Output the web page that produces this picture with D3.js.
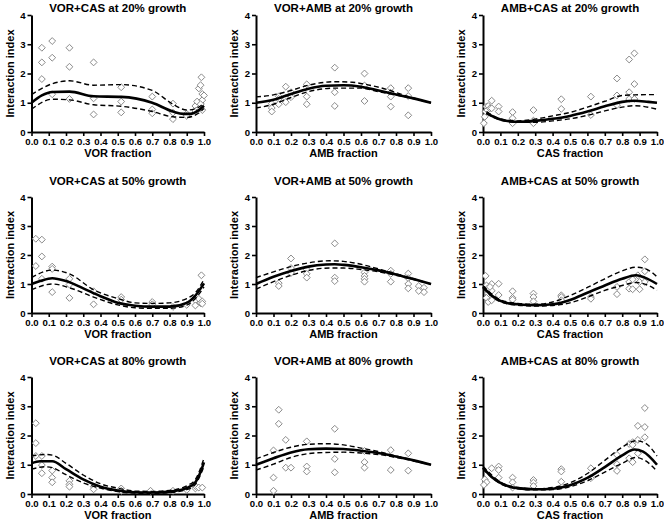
<!DOCTYPE html>
<html><head><meta charset="utf-8">
<script src="https://cdn.jsdelivr.net/npm/d3@7"></script>
<style>body{margin:0;background:#fff}svg{display:block}text{font-family:"Liberation Sans",Arial,sans-serif;font-weight:bold;fill:#000}</style>
</head><body><svg id="c" width="664" height="520"></svg>
<script>
const titles = ["VOR+CAS at 20% growth","VOR+AMB at 20% growth","AMB+CAS at 20% growth",
  "VOR+CAS at 50% growth","VOR+AMB at 50% growth","AMB+CAS at 50% growth",
  "VOR+CAS at 80% growth","VOR+AMB at 80% growth","AMB+CAS at 80% growth"];
const xLabels = ["VOR fraction","AMB fraction","CAS fraction"];
const yLabel = "Interaction index";
const xTicks = [0,0.1,0.2,0.3,0.4,0.5,0.6,0.7,0.8,0.9,1.0];
const yTicks = [0,1,2,3,4];

// ---- VOR+CAS 20%
const vc20Pts = [[0.06,2.88],[0.06,2.38],[0.06,1.81],[0.12,3.11],[0.12,2.54],[0.12,1.29],[0.22,2.88],[0.22,2.23],[0.22,1.13],
 [0.36,2.38],[0.36,1.15],[0.36,0.6],[0.52,1.53],[0.52,1.04],[0.52,0.67],[0.7,1.21],[0.7,0.77],[0.7,0.64],[0.82,0.97],[0.82,0.44],[0.82,0.66],
 [0.9,0.62],[0.9,0.55],[0.95,0.89],[0.95,0.72],[0.96,1.04],[0.97,1.49],[0.98,1.6],[0.985,1.87],[0.99,1.3],[0.99,1.09],[0.99,0.75],[0.97,0.8],[0.98,0.95],[1.0,1.25]];
const vc20Fit = [[0,1.0],[0.06,1.25],[0.12,1.37],[0.22,1.38],[0.36,1.22],[0.52,1.2],[0.7,1.0],[0.82,0.7],[0.88,0.62],[0.92,0.62],[0.97,0.75],[1.0,0.9]];
const vc20Up = [[0,1.28],[0.12,1.65],[0.22,1.75],[0.36,1.6],[0.52,1.62],[0.7,1.42],[0.82,0.95],[0.9,0.75],[0.97,0.85],[1.0,1.0]];
const vc20Lo = [[0,0.78],[0.12,1.12],[0.22,1.1],[0.36,0.93],[0.52,0.88],[0.7,0.7],[0.82,0.52],[0.9,0.5],[0.97,0.65],[1.0,0.8]];

// ---- VOR+AMB 20%
const va20Pts = [[0.09,0.97],[0.09,0.82],[0.09,0.7],[0.13,1.22],[0.13,1.13],[0.13,0.95],[0.17,1.55],[0.17,1.16],[0.17,1.02],[0.2,1.36],[0.2,1.19],
 [0.29,1.63],[0.29,1.21],[0.29,0.95],[0.45,2.2],[0.45,1.36],[0.45,0.89],[0.62,2.0],[0.62,1.59],[0.62,1.06],[0.77,1.5],[0.77,1.34],[0.77,1.21],[0.77,0.87],
 [0.87,1.5],[0.87,1.23],[0.87,0.57]];
const va20Fit = [[0,1.0],[0.1,1.1],[0.2,1.3],[0.3,1.48],[0.4,1.58],[0.5,1.6],[0.6,1.55],[0.7,1.42],[0.8,1.28],[0.9,1.15],[1.0,1.0]];
const va20Up = [[0,1.2],[0.1,1.27],[0.2,1.42],[0.3,1.6],[0.45,1.72],[0.55,1.7],[0.65,1.6],[0.75,1.45],[0.85,1.25],[1.0,1.0]];
const va20Lo = [[0,0.82],[0.1,0.95],[0.2,1.18],[0.3,1.38],[0.45,1.5],[0.6,1.5],[0.7,1.38],[0.8,1.27],[0.9,1.14],[1.0,1.0]];

// ---- AMB+CAS 20%
const ac20Pts = [[0.005,0.3],[0.01,0.52],[0.015,0.7],[0.02,0.87],[0.025,0.75],[0.03,0.89],[0.04,0.81],[0.05,1.07],[0.05,0.81],
 [0.09,0.87],[0.09,0.7],[0.17,0.68],[0.17,0.47],[0.17,0.3],[0.29,0.75],[0.29,0.39],[0.29,0.3],[0.45,1.12],[0.45,0.79],[0.62,1.21],[0.62,0.58],
 [0.77,1.83],[0.77,1.25],[0.77,0.92],[0.84,2.48],[0.84,1.36],[0.84,1.13],[0.87,2.69],[0.87,1.64],[0.87,1.13]];
const ac20Fit = [[0.02,0.66],[0.05,0.55],[0.1,0.43],[0.15,0.37],[0.2,0.35],[0.3,0.38],[0.4,0.45],[0.5,0.55],[0.6,0.7],[0.7,0.88],[0.8,1.03],[0.87,1.07],[0.95,1.03],[1.0,1.0]];
const ac20Up = [[0.02,0.7],[0.1,0.45],[0.2,0.38],[0.3,0.44],[0.4,0.55],[0.5,0.67],[0.6,0.85],[0.7,1.05],[0.8,1.25],[0.87,1.27],[1.0,1.28]];
const ac20Lo = [[0.02,0.62],[0.1,0.41],[0.2,0.33],[0.3,0.33],[0.4,0.38],[0.5,0.45],[0.6,0.57],[0.7,0.72],[0.8,0.85],[0.87,0.9],[1.0,0.78]];

// ---- VOR+CAS 50%
const vc50Pts = [[0.025,2.56],[0.025,1.62],[0.06,2.53],[0.06,1.95],[0.06,1.18],[0.12,1.6],[0.12,1.52],[0.12,0.72],[0.22,1.18],[0.22,0.98],[0.22,0.52],
 [0.36,0.75],[0.36,0.3],[0.52,0.55],[0.52,0.46],[0.7,0.38],[0.7,0.3],[0.82,0.21],[0.9,0.28],[0.95,0.44],[0.95,0.26],[0.97,0.49],[0.98,0.34],[0.985,1.3],[0.99,0.4],[0.99,0.32]];
const vc50Fit = [[0,1.0],[0.05,1.1],[0.12,1.2],[0.2,1.1],[0.3,0.85],[0.4,0.58],[0.5,0.35],[0.6,0.25],[0.7,0.22],[0.8,0.22],[0.9,0.35],[0.95,0.6],[1.0,1.02]];
const vc50Up = [[0,1.22],[0.12,1.48],[0.22,1.35],[0.36,0.8],[0.5,0.5],[0.6,0.35],[0.7,0.33],[0.8,0.35],[0.9,0.5],[0.95,0.7],[1.0,1.15]];
const vc50Lo = [[0,0.8],[0.12,1.0],[0.22,0.87],[0.36,0.55],[0.5,0.28],[0.6,0.18],[0.7,0.16],[0.8,0.16],[0.9,0.27],[0.95,0.5],[1.0,0.9]];

// ---- VOR+AMB 50%
const va50Pts = [[0.13,1.03],[0.13,0.93],[0.2,1.88],[0.2,1.55],[0.2,1.38],[0.29,1.5],[0.29,1.35],[0.29,1.22],[0.45,2.4],[0.45,1.22],[0.45,1.1],
 [0.62,1.4],[0.62,1.28],[0.62,1.18],[0.62,1.08],[0.77,1.46],[0.77,1.35],[0.77,1.08],[0.87,1.36],[0.87,1.2],[0.87,1.0],[0.87,0.85],
 [0.93,0.93],[0.93,0.76],[0.96,0.87],[0.96,0.72]];
const va50Fit = [[0,1.0],[0.1,1.25],[0.2,1.45],[0.3,1.6],[0.4,1.67],[0.45,1.68],[0.5,1.66],[0.6,1.58],[0.7,1.47],[0.8,1.33],[0.9,1.17],[1.0,1.0]];
const va50Up = [[0,1.22],[0.1,1.42],[0.2,1.6],[0.3,1.73],[0.42,1.8],[0.5,1.78],[0.6,1.68],[0.7,1.52],[0.8,1.35],[0.9,1.18],[1.0,1.0]];
const va50Lo = [[0,0.82],[0.1,1.08],[0.2,1.3],[0.3,1.47],[0.42,1.55],[0.5,1.55],[0.6,1.5],[0.7,1.42],[0.8,1.3],[0.9,1.15],[1.0,1.0]];

// ---- AMB+CAS 50%
const ac50Pts = [[0.015,1.28],[0.02,0.95],[0.025,0.84],[0.03,0.67],[0.02,0.52],[0.03,0.38],[0.05,1.0],[0.05,0.77],[0.05,0.44],[0.04,0.9],
 [0.09,1.01],[0.09,0.62],[0.17,0.75],[0.17,0.52],[0.17,0.46],[0.29,0.67],[0.29,0.55],[0.29,0.4],[0.45,0.61],[0.45,0.55],[0.45,0.44],
 [0.62,0.55],[0.62,0.49],[0.77,0.9],[0.77,0.65],[0.84,1.07],[0.84,0.84],[0.86,1.16],[0.86,0.82],[0.89,1.3],[0.9,1.07],[0.9,0.82],
 [0.93,1.85],[0.93,1.44],[0.93,1.07]];
const ac50Fit = [[0,0.9],[0.05,0.6],[0.1,0.42],[0.15,0.33],[0.2,0.3],[0.3,0.27],[0.4,0.3],[0.5,0.45],[0.6,0.7],[0.7,0.95],[0.8,1.18],[0.88,1.3],[0.93,1.22],[1.0,1.0]];
const ac50Up = [[0,0.95],[0.1,0.45],[0.2,0.33],[0.3,0.3],[0.4,0.38],[0.5,0.6],[0.6,0.88],[0.7,1.18],[0.8,1.45],[0.88,1.58],[0.95,1.48],[1.0,1.25]];
const ac50Lo = [[0,0.85],[0.1,0.39],[0.2,0.27],[0.3,0.24],[0.4,0.26],[0.5,0.35],[0.6,0.55],[0.7,0.78],[0.8,0.95],[0.88,1.05],[0.95,0.95],[1.0,0.78]];

// ---- VOR+CAS 80%
const vc80Pts = [[0.025,2.42],[0.025,1.74],[0.025,1.3],[0.06,1.3],[0.06,0.99],[0.06,0.71],[0.12,0.8],[0.12,0.56],[0.12,0.4],
 [0.22,0.45],[0.22,0.33],[0.22,0.25],[0.36,0.25],[0.36,0.16],[0.52,0.19],[0.52,0.11],[0.69,0.11],[0.82,0.11],[0.9,0.14],
 [0.95,0.19],[0.95,0.27],[0.97,0.22],[0.99,0.22]];
const vc80Fit = [[0,1.05],[0.05,1.12],[0.12,1.12],[0.2,0.85],[0.3,0.5],[0.4,0.25],[0.5,0.12],[0.6,0.06],[0.7,0.05],[0.8,0.08],[0.9,0.2],[0.95,0.4],[0.98,0.75],[1.0,1.08]];
const vc80Up = [[0,1.3],[0.08,1.35],[0.12,1.33],[0.2,1.05],[0.3,0.65],[0.4,0.35],[0.5,0.2],[0.6,0.1],[0.7,0.09],[0.8,0.12],[0.9,0.28],[0.95,0.5],[1.0,1.22]];
const vc80Lo = [[0,0.85],[0.08,0.93],[0.12,0.9],[0.2,0.66],[0.3,0.38],[0.4,0.2],[0.5,0.08],[0.6,0.03],[0.7,0.02],[0.8,0.05],[0.9,0.15],[0.95,0.33],[1.0,0.95]];

// ---- VOR+AMB 80%
const va80Pts = [[0.1,1.49],[0.1,0.56],[0.1,0.11],[0.13,2.88],[0.13,2.4],[0.17,1.85],[0.17,0.9],[0.2,0.9],[0.29,1.8],[0.29,0.94],[0.29,0.77],
 [0.45,2.23],[0.45,1.2],[0.45,0.74],[0.62,1.47],[0.62,1.09],[0.62,0.9],[0.77,1.5],[0.77,0.82],[0.87,1.39],[0.87,0.8]];
const va80Fit = [[0,1.0],[0.1,1.22],[0.2,1.42],[0.3,1.53],[0.4,1.55],[0.5,1.54],[0.6,1.48],[0.7,1.4],[0.8,1.28],[0.9,1.15],[1.0,1.0]];
const va80Up = [[0,1.2],[0.1,1.42],[0.2,1.6],[0.3,1.7],[0.4,1.72],[0.5,1.68],[0.6,1.57],[0.7,1.45],[0.8,1.3],[0.9,1.16],[1.0,1.0]];
const va80Lo = [[0,0.82],[0.1,1.02],[0.2,1.25],[0.3,1.38],[0.4,1.42],[0.5,1.43],[0.6,1.4],[0.7,1.35],[0.8,1.25],[0.9,1.13],[1.0,1.0]];

// ---- AMB+CAS 80%
const ac80Pts = [[0.01,0.5],[0.02,0.4],[0.005,0.31],[0.05,0.88],[0.09,0.94],[0.09,0.82],[0.09,0.56],[0.17,0.56],[0.17,0.4],[0.17,0.22],
 [0.29,0.48],[0.29,0.39],[0.29,0.27],[0.45,0.85],[0.45,0.77],[0.45,0.42],[0.62,0.88],[0.62,0.54],[0.77,1.34],[0.77,1.02],[0.77,0.79],
 [0.84,1.71],[0.84,1.22],[0.86,1.77],[0.86,1.68],[0.86,1.09],[0.89,2.33],[0.89,1.85],[0.89,1.39],[0.93,2.94],[0.93,2.29],[0.93,1.94]];
const ac80Fit = [[0,0.9],[0.05,0.58],[0.1,0.38],[0.15,0.26],[0.2,0.2],[0.3,0.16],[0.4,0.18],[0.5,0.3],[0.6,0.55],[0.7,0.92],[0.8,1.32],[0.87,1.52],[0.92,1.45],[1.0,1.0]];
const ac80Up = [[0,0.95],[0.1,0.41],[0.2,0.22],[0.3,0.18],[0.4,0.22],[0.5,0.38],[0.6,0.7],[0.7,1.15],[0.8,1.6],[0.88,1.82],[0.93,1.75],[1.0,1.3]];
const ac80Lo = [[0,0.85],[0.1,0.35],[0.2,0.18],[0.3,0.14],[0.4,0.15],[0.5,0.25],[0.6,0.45],[0.7,0.75],[0.8,1.05],[0.88,1.25],[0.93,1.15],[1.0,0.78]];

const pointSets = [vc20Pts,va20Pts,ac20Pts,vc50Pts,va50Pts,ac50Pts,vc80Pts,va80Pts,ac80Pts];
const fitSets = [vc20Fit,va20Fit,ac20Fit,vc50Fit,va50Fit,ac50Fit,vc80Fit,va80Fit,ac80Fit];
const upSets = [vc20Up,va20Up,ac20Up,vc50Up,va50Up,ac50Up,vc80Up,va80Up,ac80Up];
const loSets = [vc20Lo,va20Lo,ac20Lo,vc50Lo,va50Lo,ac50Lo,vc80Lo,va80Lo,ac80Lo];

const colX = [[31.5,204],[256,431],[483,657]];
const rowY = [[132,15],[313,197],[494,377]];
const titleY = [12,185,365];

const svg = d3.select("#c");
const diamond = d3.symbol().type(d3.symbolDiamond2 || d3.symbolDiamond).size(30);

for (let i = 0; i < 9; i++) {
  const r = Math.floor(i/3), c = i%3;
  const x = d3.scaleLinear().domain([0,1]).range(colX[c]);
  const y = d3.scaleLinear().domain([0,4]).range(rowY[r]);
  const g = svg.append("g");

  // title
  g.append("text").attr("x",(colX[c][0]+colX[c][1])/2).attr("y",titleY[r])
    .attr("text-anchor","middle").style("font-size","11.5px").text(titles[i]);

  // x axis
  const xa = g.append("g").attr("transform",`translate(0,${rowY[r][0]})`)
    .call(d3.axisBottom(x).tickValues(xTicks).tickFormat(d3.format(".1f")).tickSize(4).tickPadding(2).tickSizeOuter(0));
  xa.select(".domain").attr("stroke","#000").attr("stroke-width",2);
  xa.selectAll(".tick line").attr("stroke","#000").attr("stroke-width",1.6);
  xa.selectAll(".tick text").style("font-size","9.6px").style("font-family","Liberation Sans, Arial, sans-serif").style("font-weight","bold");
  // y axis
  const ya = g.append("g").attr("transform",`translate(${colX[c][0]},0)`)
    .call(d3.axisLeft(y).tickValues(yTicks).tickFormat(d3.format("d")).tickSize(4).tickPadding(2).tickSizeOuter(0));
  ya.select(".domain").attr("stroke","#000").attr("stroke-width",2);
  ya.selectAll(".tick line").attr("stroke","#000").attr("stroke-width",1.6);
  ya.selectAll(".tick text").style("font-size","9.6px").style("font-family","Liberation Sans, Arial, sans-serif").style("font-weight","bold");

  // axis titles
  g.append("text").attr("x",(colX[c][0]+colX[c][1])/2).attr("y",rowY[r][0]+25)
    .attr("text-anchor","middle").style("font-size","11px").text(xLabels[c]);
  g.append("text").attr("transform",`translate(${colX[c][0]-18},${(rowY[r][0]+rowY[r][1])/2}) rotate(-90)`)
    .attr("text-anchor","middle").style("font-size","11px").text(yLabel);

  // points
  g.append("g").selectAll("path").data(pointSets[i]).join("path")
    .attr("d",diamond).attr("transform",d=>`translate(${x(d[0])},${y(d[1])})`)
    .attr("fill","#fff").attr("stroke","#8a8a8a").attr("stroke-width",1);

  const line = d3.line().x(d=>x(d[0])).y(d=>y(d[1])).curve(d3.curveMonotoneX);
  g.append("path").datum(upSets[i]).attr("d",line).attr("fill","none").attr("stroke","#000").attr("stroke-width",1.4).attr("stroke-dasharray","5,3");
  g.append("path").datum(loSets[i]).attr("d",line).attr("fill","none").attr("stroke","#000").attr("stroke-width",1.4).attr("stroke-dasharray","5,3");
  g.append("path").datum(fitSets[i]).attr("d",line).attr("fill","none").attr("stroke","#000").attr("stroke-width",2.6);
}
</script></body></html>
